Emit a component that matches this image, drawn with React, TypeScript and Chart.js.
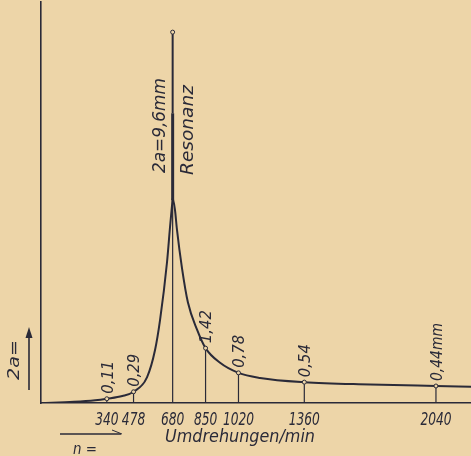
import React, { useEffect, useRef } from "react";
import { Chart, registerables } from "chart.js";

Chart.register(...registerables);

// Resonance curve: amplitude 2a (mm) vs. revolutions per minute
const curveRpm = [0, 170, 280, 340, 420, 478, 548, 589, 615, 651, 666, 677, 680, 692, 702, 728, 759, 806, 850, 925, 1020, 1131, 1360, 1700, 2040, 2221];
const curveAmp = [0, 0.03, 0.07, 0.11, 0.18, 0.29, 0.67, 1.37, 2.15, 3.65, 4.53, 5.13, 5.3, 5.0, 4.5, 3.5, 2.6, 1.9, 1.42, 1.04, 0.78, 0.65, 0.54, 0.48, 0.44, 0.42];

const markRpm = [340, 478, 850, 1020, 1360, 2040];
const markAmp = [0.11, 0.29, 1.42, 0.78, 0.54, 0.44];
const markText = ["0,11", "0,29", "1,42", "0,78", "0,54", "0,44mm"];

const tickValues = [340, 478, 680, 850, 1020, 1360, 2040];

const resonanceRpm = 680;
const resonanceAmp = 9.6;
const curveTopAmp = 5.3;

const BG = "#edd5a8";
const INK = "#2a2a38";
const FONT = "'DejaVu Sans', sans-serif";

export default function App() {
  const ref = useRef<HTMLCanvasElement | null>(null);

  useEffect(() => {
    document.body.style.margin = "0";
    document.body.style.background = BG;
    const canvas = ref.current;
    if (!canvas) return;

    const annot = {
      id: "annot",
      afterDatasetsDraw(chart: any) {
        const ctx = chart.ctx as CanvasRenderingContext2D;
        const xs = chart.scales.x;
        const ys = chart.scales.y;
        const y0 = ys.getPixelForValue(0);

        // draws italic text, stretched/condensed along its direction to a given length
        const txt = (
          text: string,
          x: number,
          y: number,
          size: number,
          len: number | null,
          opts: { rot?: boolean; align?: CanvasTextAlign; base?: CanvasTextBaseline; sx?: number } = {}
        ) => {
          ctx.save();
          ctx.font = `italic ${size}px ${FONT}`;
          ctx.fillStyle = INK;
          ctx.textAlign = opts.align || "left";
          ctx.textBaseline = opts.base || "middle";
          const w = ctx.measureText(text).width;
          const s = len ? len / w : opts.sx || 1;
          ctx.translate(x, y);
          if (opts.rot) ctx.rotate(-Math.PI / 2);
          ctx.scale(s, 1);
          ctx.fillText(text, 0, 0);
          ctx.restore();
        };

        ctx.save();
        ctx.strokeStyle = INK;
        ctx.fillStyle = INK;
        // drop lines
        ctx.lineWidth = 1.2;
        markRpm.forEach((r, i) => {
          const px = xs.getPixelForValue(r);
          ctx.beginPath();
          ctx.moveTo(px, y0);
          ctx.lineTo(px, ys.getPixelForValue(markAmp[i]));
          ctx.stroke();
        });
        // resonance line
        const rx = xs.getPixelForValue(resonanceRpm);
        const rTop = ys.getPixelForValue(resonanceAmp);
        ctx.lineWidth = 1.2;
        ctx.beginPath();
        ctx.moveTo(rx, y0);
        ctx.lineTo(rx, ys.getPixelForValue(curveTopAmp));
        ctx.stroke();
        ctx.lineWidth = 3;
        ctx.beginPath();
        ctx.moveTo(rx, ys.getPixelForValue(curveTopAmp) + 2);
        ctx.lineTo(rx, ys.getPixelForValue(7.5));
        ctx.stroke();
        ctx.lineWidth = 2;
        ctx.beginPath();
        ctx.moveTo(rx, ys.getPixelForValue(7.5));
        ctx.lineTo(rx, rTop);
        ctx.stroke();
        // markers
        ctx.lineWidth = 1;
        const pts: [number, number][] = markRpm.map((r, i) => [r, markAmp[i]]);
        pts.push([resonanceRpm, resonanceAmp]);
        pts.forEach(([r, a]) => {
          ctx.beginPath();
          ctx.arc(xs.getPixelForValue(r), ys.getPixelForValue(a), 2, 0, Math.PI * 2);
          ctx.fillStyle = BG;
          ctx.fill();
          ctx.stroke();
        });
        ctx.fillStyle = INK;

        // value labels (rotated)
        markRpm.forEach((r, i) => {
          const len = markText[i].length > 4 ? 58 : 33;
          txt(markText[i], xs.getPixelForValue(r) + 2, ys.getPixelForValue(markAmp[i]) - 5, 15, len, { rot: true });
        });
        txt("2a=9,6mm", rx - 12, 173, 17, 95, { rot: true });
        txt("Resonanz", rx + 16, 175, 17, 90, { rot: true });

        // x tick labels
        xs.ticks.forEach((t: any) => {
          txt(String(t.value), xs.getPixelForValue(t.value), 425, 17, null, { align: "center", base: "alphabetic", sx: 0.72 });
        });

        // 2a= with arrow
        txt("2a=", 15, 380, 15, 40, { rot: true });
        ctx.lineWidth = 1.6;
        ctx.beginPath();
        ctx.moveTo(29, 390);
        ctx.lineTo(29, 330);
        ctx.stroke();
        ctx.beginPath();
        ctx.moveTo(29, 327);
        ctx.lineTo(25.5, 338);
        ctx.lineTo(32.5, 338);
        ctx.closePath();
        ctx.fill();
        // n= with arrow
        ctx.beginPath();
        ctx.moveTo(60, 434);
        ctx.lineTo(121, 434);
        ctx.stroke();
        ctx.lineWidth = 1;
        ctx.beginPath();
        ctx.moveTo(112, 430);
        ctx.lineTo(122, 434);
        ctx.stroke();
        txt("n =", 73, 454, 16, 24, { base: "alphabetic" });
        // axis title
        txt("Umdrehungen/min", 165, 438, 17, 150);
        ctx.restore();
      },
    };

    const chart = new Chart(canvas, {
      type: "line",
      data: {
        datasets: [
          {
            data: curveRpm.map((r, i) => ({ x: r, y: curveAmp[i] })),
            borderColor: INK,
            borderWidth: 2,
            pointRadius: 0,
            cubicInterpolationMode: "monotone",
            fill: false,
          },
        ],
      },
      options: {
        animation: false,
        responsive: false,
        devicePixelRatio: 1,
        layout: { padding: { top: 2, right: 0, left: 0, bottom: 0 } },
        plugins: { legend: { display: false }, tooltip: { enabled: false } },
        scales: {
          x: {
            type: "linear",
            min: 0,
            max: 2221,
            grid: { display: false, drawTicks: false },
            border: { display: true, color: INK, width: 1.6 },
            afterBuildTicks: (s: any) => {
              s.ticks = tickValues.map((v) => ({ value: v }));
            },
            afterFit: (s: any) => {
              s.height = 53;
            },
            ticks: { display: false, autoSkip: false },
          },
          y: {
            type: "linear",
            min: 0,
            max: 10.38,
            grid: { display: false, drawTicks: false },
            border: { display: true, color: INK, width: 1.6 },
            ticks: { display: false },
            afterFit: (s: any) => {
              s.width = 41;
            },
          },
        },
      },
      plugins: [annot],
    } as any);

    return () => chart.destroy();
  }, []);

  return <canvas ref={ref} width={471} height={456} style={{ display: "block" }} />;
}
